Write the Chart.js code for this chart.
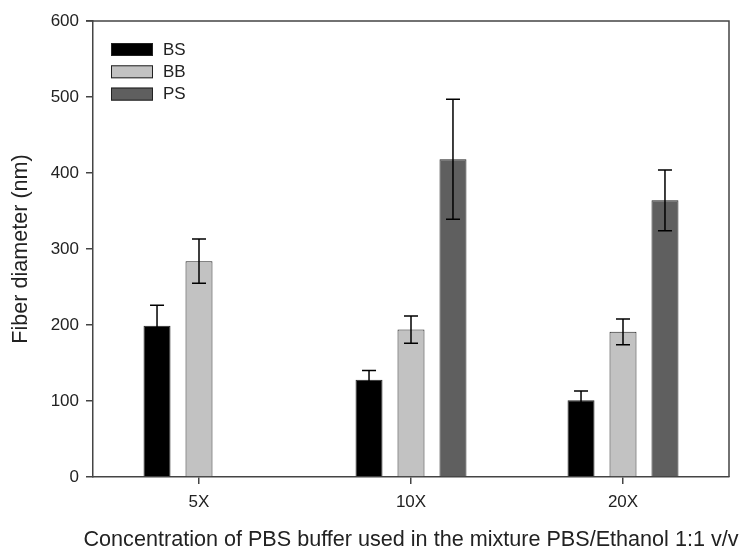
<!DOCTYPE html>
<html>
<head>
<meta charset="utf-8">
<script src="https://cdn.jsdelivr.net/npm/chart.js@4"></script>
<style>
html,body{margin:0;padding:0;background:#fff;}
canvas{display:block;}
</style>
</head>
<body>
<canvas id="c" width="740" height="549"></canvas>
<script>
const categories = ['5X', '10X', '20X'];
const seriesNames = ['BS', 'BB', 'PS'];
const bsValues = [199, 128, 101];
const bsErrors = [27, 12, 12];
const bbValues = [284, 194, 191];
const bbErrors = [29, 18, 17];
const psValues = [null, 418, 364];
const psErrors = [null, 79, 40];
const seriesColors = ['#000000', '#c2c2c2', '#5f5f5f'];
const yTicks = [0, 100, 200, 300, 400, 500, 600];
const xTitle = 'Concentration of PBS buffer used in the mixture PBS/Ethanol 1:1 v/v';
const yTitle = 'Fiber diameter (nm)';

const FONT = 'Liberation Sans, Arial, Helvetica, sans-serif';
const errorSets = [bsErrors, bbErrors, psErrors];

const errorBarPlugin = {
  id: 'errorBars',
  afterDatasetsDraw(chart) {
    const ctx = chart.ctx;
    const y = chart.scales.y;
    ctx.save();
    ctx.strokeStyle = '#000';
    ctx.lineWidth = 1.5;
    chart.data.datasets.forEach((ds, i) => {
      const meta = chart.getDatasetMeta(i);
      meta.data.forEach((el, j) => {
        const v = ds.data[j];
        const e = errorSets[i][j];
        if (v == null || e == null) return;
        const x = el.x;
        const yt = y.getPixelForValue(v + e);
        const yb = y.getPixelForValue(v - e);
        const half = 7;
        ctx.beginPath();
        ctx.moveTo(x, yt); ctx.lineTo(x, yb);
        ctx.moveTo(x - half, yt); ctx.lineTo(x + half, yt);
        ctx.moveTo(x - half, yb); ctx.lineTo(x + half, yb);
        ctx.stroke();
      });
    });
    ctx.restore();
  }
};

const framePlugin = {
  id: 'frame',
  afterDraw(chart) {
    const a = chart.chartArea;
    const ctx = chart.ctx;
    ctx.save();
    ctx.strokeStyle = '#444';
    ctx.lineWidth = 1.5;
    ctx.beginPath();
    ctx.moveTo(a.left - 7, a.top);
    ctx.lineTo(a.right, a.top);
    ctx.lineTo(a.right, a.bottom);
    ctx.stroke();
    // x axis title (drawn without width compression)
    ctx.fillStyle = '#222';
    ctx.font = '21.6px ' + FONT;
    ctx.textAlign = 'center';
    ctx.textBaseline = 'middle';
    ctx.fillText(xTitle, (a.left + a.right) / 2, 540);
    ctx.restore();
  }
};

const legendPlugin = {
  id: 'insideLegend',
  afterDraw(chart) {
    const a = chart.chartArea;
    const ctx = chart.ctx;
    ctx.save();
    ctx.font = '17px ' + FONT;
    ctx.textBaseline = 'middle';
    ctx.textAlign = 'left';
    chart.data.datasets.forEach((ds, i) => {
      const top = a.top + 22 + i * 22.3;
      ctx.fillStyle = ds.backgroundColor;
      ctx.fillRect(a.left + 18, top, 42, 13);
      ctx.strokeStyle = '#222';
      ctx.lineWidth = 1;
      ctx.strokeRect(a.left + 18.5, top + 0.5, 41, 12);
      ctx.fillStyle = '#222';
      ctx.fillText(ds.label, a.left + 70, top + 7);
    });
    ctx.restore();
  }
};

const valueSets = [bsValues, bbValues, psValues];
const datasets = seriesNames.map((name, i) => ({
  label: name,
  data: valueSets[i],
  backgroundColor: seriesColors[i],
  borderColor: '#222',
  borderWidth: 1,
  categoryPercentage: 0.594,
  barPercentage: 0.643
}));

new Chart(document.getElementById('c'), {
  type: 'bar',
  data: { labels: categories, datasets },
  plugins: [errorBarPlugin, framePlugin, legendPlugin],
  options: {
    responsive: false,
    animation: false,
    events: [],
    layout: { padding: { left: 0, right: 11, top: 21, bottom: 0 } },
    plugins: { legend: { display: false }, tooltip: { enabled: false } },
    scales: {
      x: {
        type: 'category',
        grid: { display: true, drawOnChartArea: false, drawTicks: true, tickLength: 7, offset: false, color: '#444', lineWidth: 1.5 },
        border: { display: true, color: '#444', width: 1.5 },
        ticks: { color: '#222', font: { family: FONT, size: 17 }, padding: 8 },
        title: { display: false },
        afterFit(scale) { scale.height = 72; }
      },
      y: {
        min: 0,
        max: 600,
        afterBuildTicks(scale) { scale.ticks = yTicks.map(v => ({ value: v })); },
        grid: { display: true, drawOnChartArea: false, drawTicks: true, tickLength: 7, color: '#444', lineWidth: 1.5 },
        border: { display: true, color: '#444', width: 1.5 },
        ticks: { color: '#222', font: { family: FONT, size: 17 }, padding: 7 },
        title: {
          display: true,
          text: yTitle,
          color: '#222',
          font: { family: FONT, size: 21.6 },
          padding: { top: 8, bottom: 0 }
        },
        afterFit(scale) { scale.width = 93; }
      }
    }
  }
});
</script>
</body>
</html>
